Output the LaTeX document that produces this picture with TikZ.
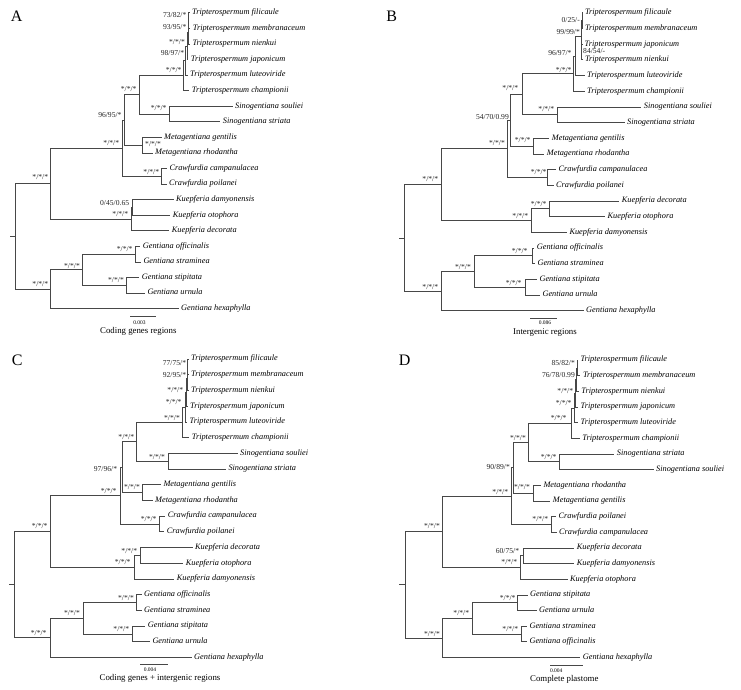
\documentclass[tikz,border=0pt]{standalone}
\usepackage{fontspec}
\setmainfont{Liberation Serif}
\usepackage{tikz}
\usetikzlibrary{positioning,calc}

\tikzset{
    taxon/.style={font=\fontsize{8.3}{9}\selectfont\itshape, anchor=west, inner xsep=2.5pt, inner ysep=0pt, text height=5.7pt, text depth=1.8pt},
    support/.style={font=\fontsize{7.6}{8}\selectfont, text=black!85, anchor=east, inner sep=0pt, text height=5.1pt, text depth=0pt},
    branch/.style={draw=black!72, line width=0.5pt},
    barlabel/.style={font=\fontsize{5.5}{6}\selectfont, inner sep=0pt},
    treetitle/.style={font=\fontsize{8.8}{10}\selectfont, inner sep=0pt, text height=6pt, text depth=1.9pt},
    panel/.style={font=\fontsize{16}{18}\selectfont, inner sep=0pt}
}

\begin{document}
\begin{tikzpicture}[x=1pt, y=-1pt]
    \useasboundingbox (0,0) rectangle (741,690);

    % ---------------- Panel A: coding genes ----------------
    \node[panel] (a_lab) at (16.7,16) {A};
    % tips
    \node[taxon] (a_fil) at (189.5,12.7) {Tripterospermum filicaule};
    \node[taxon] (a_mem) at (190.2,28.3) {Tripterospermum membranaceum};
    \node[taxon] (a_nie) at (189.8,43.8) {Tripterospermum nienkui};
    \node[taxon] (a_jap) at (188.2,59.4) {Tripterospermum japonicum};
    \node[taxon] (a_lut) at (187.5,75.0) {Tripterospermum luteoviride};
    \node[taxon] (a_cha) at (189.2,90.6) {Tripterospermum championii};
    \node[taxon] (a_sou) at (232.5,106.1) {Sinogentiana souliei};
    \node[taxon] (a_str) at (220.2,121.7) {Sinogentiana striata};
    \node[taxon] (a_gen) at (161.5,137.3) {Metagentiana gentilis};
    \node[taxon] (a_rho) at (152.5,152.8) {Metagentiana rhodantha};
    \node[taxon] (a_cam) at (166.8,168.4) {Crawfurdia campanulacea};
    \node[taxon] (a_poi) at (166.5,184.0) {Crawfurdia poilanei};
    \node[taxon] (a_dam) at (173.5,199.5) {Kuepferia damyonensis};
    \node[taxon] (a_oto) at (170.2,215.1) {Kuepferia otophora};
    \node[taxon] (a_dec) at (169.2,230.7) {Kuepferia decorata};
    \node[taxon] (a_off) at (140.2,246.3) {Gentiana officinalis};
    \node[taxon] (a_stm) at (140.8,261.8) {Gentiana straminea};
    \node[taxon] (a_stp) at (139.2,277.4) {Gentiana stipitata};
    \node[taxon] (a_urn) at (144.8,293.0) {Gentiana urnula};
    \node[taxon] (a_hex) at (178.5,308.5) {Gentiana hexaphylla};
    % inner nodes
    \coordinate (a_n1) at (188.5,20.5);
    \coordinate (a_n2) at (188,32.2);
    \coordinate (a_n3) at (187,45.8);
    \coordinate (a_n4) at (185.5,60.4);
    \coordinate (a_tri) at (183.3,75.4);
    \coordinate (a_sin) at (169.3,113.9);
    \coordinate (a_ts) at (139.3,94.7);
    \coordinate (a_met) at (142.7,145.0);
    \coordinate (a_tsm) at (124,119.9);
    \coordinate (a_cra) at (161.7,176.2);
    \coordinate (a_core) at (122.7,148.0);
    \coordinate (a_kdo) at (132.5,207.3);
    \coordinate (a_kue) at (131,219.0);
    \coordinate (a_ing) at (50.7,183.5);
    \coordinate (a_gos) at (135,254.0);
    \coordinate (a_gsu) at (126.7,285.2);
    \coordinate (a_gcl) at (82.3,269.6);
    \coordinate (a_gnt) at (50.7,289.1);
    \coordinate (a_root) at (15,236.3);
    \coordinate (a_stub) at (9.5,236.3);
    % branches
    \draw[branch] (a_n1) |- (a_fil.west) (a_n1) |- (a_mem.west);
    \draw[branch] (a_n2) |- (a_n1) (a_n2) |- (a_nie.west);
    \draw[branch] (a_n3) |- (a_n2) (a_n3) |- (a_jap.west);
    \draw[branch] (a_n4) |- (a_n3) (a_n4) |- (a_lut.west);
    \draw[branch] (a_tri) |- (a_n4) (a_tri) |- (a_cha.west);
    \draw[branch] (a_sin) |- (a_sou.west) (a_sin) |- (a_str.west);
    \draw[branch] (a_ts) |- (a_tri) (a_ts) |- (a_sin);
    \draw[branch] (a_met) |- (a_gen.west) (a_met) |- (a_rho.west);
    \draw[branch] (a_tsm) |- (a_ts) (a_tsm) |- (a_met);
    \draw[branch] (a_cra) |- (a_cam.west) (a_cra) |- (a_poi.west);
    \draw[branch] (a_core) |- (a_tsm) (a_core) |- (a_cra);
    \draw[branch] (a_kdo) |- (a_dam.west) (a_kdo) |- (a_oto.west);
    \draw[branch] (a_kue) |- (a_kdo) (a_kue) |- (a_dec.west);
    \draw[branch] (a_ing) |- (a_core) (a_ing) |- (a_kue);
    \draw[branch] (a_gos) |- (a_off.west) (a_gos) |- (a_stm.west);
    \draw[branch] (a_gsu) |- (a_stp.west) (a_gsu) |- (a_urn.west);
    \draw[branch] (a_gcl) |- (a_gos) (a_gcl) |- (a_gsu);
    \draw[branch] (a_gnt) |- (a_gcl) (a_gnt) |- (a_hex.west);
    \draw[branch] (a_root) |- (a_ing) (a_root) |- (a_gnt) (a_root) -- (a_stub);
    % support values
    \node[support] (a_s1) at (186.5,15) {73/82/*};
    \node[support] (a_s2) at (186.5,27.3) {93/95/*};
    \node[support] (a_s3) at (185,41.7) {*/*/*};
    \node[support] (a_s4) at (184.3,53.3) {98/97/*};
    \node[support] (a_s5) at (181.7,70) {*/*/*};
    \node[support] (a_s6) at (136.7,89.3) {*/*/*};
    \node[support] (a_s7) at (166.7,108.3) {*/*/*};
    \node[support] (a_s8) at (121.7,115) {96/95/*};
    \node[support, anchor=west] (a_s9) at (145,144) {*/*/*};
    \node[support] (a_s10) at (119.3,143.3) {*/*/*};
    \node[support] (a_s11) at (159.3,171.7) {*/*/*};
    \node[support] (a_s12) at (48.3,177.3) {*/*/*};
    \node[support] (a_s13) at (129.3,202.7) {0/45/0.65};
    \node[support] (a_s14) at (128.3,214) {*/*/*};
    \node[support] (a_s15) at (132.7,249) {*/*/*};
    \node[support] (a_s16) at (80,265.7) {*/*/*};
    \node[support] (a_s17) at (124,280) {*/*/*};
    \node[support] (a_s18) at (48.3,284.3) {*/*/*};
    % scale bar
    \coordinate (a_bar1) at (130,316.7);
    \coordinate (a_bar2) at (156,316.7);
    \draw[branch] (a_bar1) -- (a_bar2);
    \node[barlabel] (a_barlab) at (139.5,322.3) {0.003};
    \node[treetitle] (a_title) at (138.3,331.3) {Coding genes regions};

    % ---------------- Panel B: intergenic ----------------
    \begin{scope}[shift={(370,0)}]
    \node[panel] (b_lab) at (21.7,16) {B};
    % tips
    \node[taxon] (b_fil) at (212.3,12.7) {Tripterospermum filicaule};
    \node[taxon] (b_mem) at (212.3,28.4) {Tripterospermum membranaceum};
    \node[taxon] (b_jap) at (212,44.1) {Tripterospermum japonicum};
    \node[taxon] (b_nie) at (212.3,59.7) {Tripterospermum nienkui};
    \node[taxon] (b_lut) at (214.5,75.4) {Tripterospermum luteoviride};
    \node[taxon] (b_cha) at (214.5,91.1) {Tripterospermum championii};
    \node[taxon] (b_sou) at (271.2,106.8) {Sinogentiana souliei};
    \node[taxon] (b_str) at (254.5,122.5) {Sinogentiana striata};
    \node[taxon] (b_gen) at (179.2,138.1) {Metagentiana gentilis};
    \node[taxon] (b_rho) at (174.2,153.8) {Metagentiana rhodantha};
    \node[taxon] (b_cam) at (185.8,169.5) {Crawfurdia campanulacea};
    \node[taxon] (b_poi) at (183.5,185.2) {Crawfurdia poilanei};
    \node[taxon] (b_dec) at (249.2,200.9) {Kuepferia decorata};
    \node[taxon] (b_oto) at (235,216.5) {Kuepferia otophora};
    \node[taxon] (b_dam) at (196.8,232.2) {Kuepferia damyonensis};
    \node[taxon] (b_off) at (164.2,247.9) {Gentiana officinalis};
    \node[taxon] (b_stm) at (164.8,263.6) {Gentiana straminea};
    \node[taxon] (b_stp) at (166.8,279.3) {Gentiana stipitata};
    \node[taxon] (b_urn) at (169.8,294.9) {Gentiana urnula};
    \node[taxon] (b_hex) at (213.5,310.6) {Gentiana hexaphylla};
    % inner nodes
    \coordinate (b_n1) at (211.8,20.5);
    \coordinate (b_n2) at (211.6,51.9);
    \coordinate (b_n3) at (211.2,36.2);
    \coordinate (b_n4) at (205,55.8);
    \coordinate (b_tri) at (203.3,73.5);
    \coordinate (b_sin) at (187.7,114.6);
    \coordinate (b_ts) at (152.7,94.0);
    \coordinate (b_met) at (163.3,146.0);
    \coordinate (b_tsm) at (140,120.0);
    \coordinate (b_cra) at (177.7,177.3);
    \coordinate (b_core) at (137.7,148.6);
    \coordinate (b_kdo) at (179.3,208.7);
    \coordinate (b_kue) at (161,220.5);
    \coordinate (b_ing) at (71.7,184.6);
    \coordinate (b_gos) at (162.3,255.7);
    \coordinate (b_gsu) at (155,287.1);
    \coordinate (b_gcl) at (104,271.4);
    \coordinate (b_gnt) at (71.7,291.0);
    \coordinate (b_root) at (34.3,237.9);
    \coordinate (b_stub) at (29,237.9);
    % branches
    \draw[branch] (b_n1) |- (b_fil.west) (b_n1) |- (b_mem.west);
    \draw[branch] (b_n2) |- (b_jap.west) (b_n2) |- (b_nie.west);
    \draw[branch] (b_n3) |- (b_n1) (b_n3) |- (b_n2);
    \draw[branch] (b_n4) |- (b_n3) (b_n4) |- (b_lut.west);
    \draw[branch] (b_tri) |- (b_n4) (b_tri) |- (b_cha.west);
    \draw[branch] (b_sin) |- (b_sou.west) (b_sin) |- (b_str.west);
    \draw[branch] (b_ts) |- (b_tri) (b_ts) |- (b_sin);
    \draw[branch] (b_met) |- (b_gen.west) (b_met) |- (b_rho.west);
    \draw[branch] (b_tsm) |- (b_ts) (b_tsm) |- (b_met);
    \draw[branch] (b_cra) |- (b_cam.west) (b_cra) |- (b_poi.west);
    \draw[branch] (b_core) |- (b_tsm) (b_core) |- (b_cra);
    \draw[branch] (b_kdo) |- (b_dec.west) (b_kdo) |- (b_oto.west);
    \draw[branch] (b_kue) |- (b_kdo) (b_kue) |- (b_dam.west);
    \draw[branch] (b_ing) |- (b_core) (b_ing) |- (b_kue);
    \draw[branch] (b_gos) |- (b_off.west) (b_gos) |- (b_stm.west);
    \draw[branch] (b_gsu) |- (b_stp.west) (b_gsu) |- (b_urn.west);
    \draw[branch] (b_gcl) |- (b_gos) (b_gcl) |- (b_gsu);
    \draw[branch] (b_gnt) |- (b_gcl) (b_gnt) |- (b_hex.west);
    \draw[branch] (b_root) |- (b_ing) (b_root) |- (b_gnt) (b_root) -- (b_stub);
    % support values
    \node[support] (b_s1) at (210,20) {0/25/-};
    \node[support] (b_s2) at (210,31.7) {99/99/*};
    \node[support, anchor=west] (b_s3) at (213,51) {84/54/-};
    \node[support] (b_s4) at (201.7,52.7) {96/97/*};
    \node[support] (b_s5) at (201.7,70) {*/*/*};
    \node[support] (b_s6) at (148.3,88.3) {*/*/*};
    \node[support] (b_s7) at (184.3,109.3) {*/*/*};
    \node[support] (b_s8) at (139,117.3) {54/70/0.99};
    \node[support] (b_s9) at (160.7,140) {*/*/*};
    \node[support] (b_s10) at (135,143.3) {*/*/*};
    \node[support] (b_s11) at (176.7,171.7) {*/*/*};
    \node[support] (b_s12) at (68.3,179.3) {*/*/*};
    \node[support] (b_s13) at (176.7,204.3) {*/*/*};
    \node[support] (b_s14) at (158.3,215.7) {*/*/*};
    \node[support] (b_s15) at (157.7,251) {*/*/*};
    \node[support] (b_s16) at (101,266.7) {*/*/*};
    \node[support] (b_s17) at (151.7,282.7) {*/*/*};
    \node[support] (b_s18) at (68.3,286.7) {*/*/*};
    % scale bar
    \coordinate (b_bar1) at (160,318.3);
    \coordinate (b_bar2) at (187.3,318.3);
    \draw[branch] (b_bar1) -- (b_bar2);
    \node[barlabel] (b_barlab) at (175,322.3) {0.086};
    \node[treetitle] (b_title) at (175,332.7) {Intergenic regions};
    \end{scope}

    % ---------------- Panel C: coding genes + intergenic ----------------
    \node[panel] (c_lab) at (17.2,360.7) {C};
    % tips
    \node[taxon] (c_fil) at (188.5,359) {Tripterospermum filicaule};
    \node[taxon] (c_mem) at (188.5,374.7) {Tripterospermum membranaceum};
    \node[taxon] (c_nie) at (188.5,390.4) {Tripterospermum nienkui};
    \node[taxon] (c_jap) at (187.5,406.1) {Tripterospermum japonicum};
    \node[taxon] (c_lut) at (187,421.8) {Tripterospermum luteoviride};
    \node[taxon] (c_cha) at (189.2,437.5) {Tripterospermum championii};
    \node[taxon] (c_sou) at (237.5,453.2) {Sinogentiana souliei};
    \node[taxon] (c_str) at (225.8,468.9) {Sinogentiana striata};
    \node[taxon] (c_gen) at (160.8,484.6) {Metagentiana gentilis};
    \node[taxon] (c_rho) at (152.5,500.3) {Metagentiana rhodantha};
    \node[taxon] (c_cam) at (165.2,516.0) {Crawfurdia campanulacea};
    \node[taxon] (c_poi) at (164.2,531.7) {Crawfurdia poilanei};
    \node[taxon] (c_dec) at (192.5,547.4) {Kuepferia decorata};
    \node[taxon] (c_oto) at (183.2,563.1) {Kuepferia otophora};
    \node[taxon] (c_dam) at (174.2,578.8) {Kuepferia damyonensis};
    \node[taxon] (c_off) at (141.5,594.5) {Gentiana officinalis};
    \node[taxon] (c_stm) at (141.5,610.2) {Gentiana straminea};
    \node[taxon] (c_stp) at (145.2,625.9) {Gentiana stipitata};
    \node[taxon] (c_urn) at (149.8,641.6) {Gentiana urnula};
    \node[taxon] (c_hex) at (191.5,657.3) {Gentiana hexaphylla};
    % inner nodes
    \coordinate (c_n1) at (187.5,366.9);
    \coordinate (c_n2) at (187,378.6);
    \coordinate (c_n3) at (186.2,392.4);
    \coordinate (c_n4) at (184.8,407.1);
    \coordinate (c_tri) at (182.7,422.3);
    \coordinate (c_sin) at (168.3,461.1);
    \coordinate (c_ts) at (136.7,441.7);
    \coordinate (c_met) at (142.7,492.5);
    \coordinate (c_tsm) at (122.7,467.1);
    \coordinate (c_cra) at (159.3,523.9);
    \coordinate (c_core) at (120,495.4);
    \coordinate (c_kdo) at (140,555.3);
    \coordinate (c_kue) at (134.3,567.0);
    \coordinate (c_ing) at (50,531.2);
    \coordinate (c_gos) at (136.7,602.4);
    \coordinate (c_gsu) at (132.7,633.8);
    \coordinate (c_gcl) at (83.3,618.1);
    \coordinate (c_gnt) at (50,637.7);
    \coordinate (c_root) at (14.3,584.5);
    \coordinate (c_stub) at (8.8,584.5);
    % branches
    \draw[branch] (c_n1) |- (c_fil.west) (c_n1) |- (c_mem.west);
    \draw[branch] (c_n2) |- (c_n1) (c_n2) |- (c_nie.west);
    \draw[branch] (c_n3) |- (c_n2) (c_n3) |- (c_jap.west);
    \draw[branch] (c_n4) |- (c_n3) (c_n4) |- (c_lut.west);
    \draw[branch] (c_tri) |- (c_n4) (c_tri) |- (c_cha.west);
    \draw[branch] (c_sin) |- (c_sou.west) (c_sin) |- (c_str.west);
    \draw[branch] (c_ts) |- (c_tri) (c_ts) |- (c_sin);
    \draw[branch] (c_met) |- (c_gen.west) (c_met) |- (c_rho.west);
    \draw[branch] (c_tsm) |- (c_ts) (c_tsm) |- (c_met);
    \draw[branch] (c_cra) |- (c_cam.west) (c_cra) |- (c_poi.west);
    \draw[branch] (c_core) |- (c_tsm) (c_core) |- (c_cra);
    \draw[branch] (c_kdo) |- (c_dec.west) (c_kdo) |- (c_oto.west);
    \draw[branch] (c_kue) |- (c_kdo) (c_kue) |- (c_dam.west);
    \draw[branch] (c_ing) |- (c_core) (c_ing) |- (c_kue);
    \draw[branch] (c_gos) |- (c_off.west) (c_gos) |- (c_stm.west);
    \draw[branch] (c_gsu) |- (c_stp.west) (c_gsu) |- (c_urn.west);
    \draw[branch] (c_gcl) |- (c_gos) (c_gcl) |- (c_gsu);
    \draw[branch] (c_gnt) |- (c_gcl) (c_gnt) |- (c_hex.west);
    \draw[branch] (c_root) |- (c_ing) (c_root) |- (c_gnt) (c_root) -- (c_stub);
    % support values
    \node[support] (c_s1) at (186.3,363.3) {77/75/*};
    \node[support] (c_s2) at (186.3,375) {92/95/*};
    \node[support] (c_s3) at (183.3,390) {*/*/*};
    \node[support] (c_s4) at (181.7,402.3) {*/*/*};
    \node[support] (c_s5) at (180,417.7) {*/*/*};
    \node[support] (c_s6) at (134.3,436.7) {*/*/*};
    \node[support] (c_s7) at (165,456.7) {*/*/*};
    \node[support] (c_s8) at (117.3,469.3) {97/96/*};
    \node[support] (c_s9) at (140,486.7) {*/*/*};
    \node[support] (c_s10) at (116.7,490.7) {*/*/*};
    \node[support] (c_s11) at (156.7,519.3) {*/*/*};
    \node[support] (c_s12) at (47.7,526) {*/*/*};
    \node[support] (c_s13) at (137.3,551) {*/*/*};
    \node[support] (c_s14) at (130.7,562.3) {*/*/*};
    \node[support] (c_s15) at (134,598.3) {*/*/*};
    \node[support] (c_s16) at (80,613.3) {*/*/*};
    \node[support] (c_s17) at (129.3,629) {*/*/*};
    \node[support] (c_s18) at (46.7,633.3) {*/*/*};
    % scale bar
    \coordinate (c_bar1) at (140,664.3);
    \coordinate (c_bar2) at (167.7,664.3);
    \draw[branch] (c_bar1) -- (c_bar2);
    \node[barlabel] (c_barlab) at (150,669.3) {0.004};
    \node[treetitle] (c_title) at (160,678.3) {Coding genes + intergenic regions};

    % ---------------- Panel D: complete plastome ----------------
    \begin{scope}[shift={(370,0)}]
    \node[panel] (d_lab) at (34.7,360) {D};
    % tips
    \node[taxon] (d_fil) at (207.8,360) {Tripterospermum filicaule};
    \node[taxon] (d_mem) at (210.3,375.7) {Tripterospermum membranaceum};
    \node[taxon] (d_nie) at (208.7,391.3) {Tripterospermum nienkui};
    \node[taxon] (d_jap) at (208,407.0) {Tripterospermum japonicum};
    \node[taxon] (d_lut) at (208,422.6) {Tripterospermum luteoviride};
    \node[taxon] (d_cha) at (209.7,438.3) {Tripterospermum championii};
    \node[taxon] (d_str) at (244.2,453.9) {Sinogentiana striata};
    \node[taxon] (d_sou) at (283.5,469.6) {Sinogentiana souliei};
    \node[taxon] (d_rho) at (170.8,485.2) {Metagentiana rhodantha};
    \node[taxon] (d_gen) at (180.2,500.9) {Metagentiana gentilis};
    \node[taxon] (d_poi) at (185.8,516.5) {Crawfurdia poilanei};
    \node[taxon] (d_cam) at (186.5,532.2) {Crawfurdia campanulacea};
    \node[taxon] (d_dec) at (204.2,547.8) {Kuepferia decorata};
    \node[taxon] (d_dam) at (204.2,563.5) {Kuepferia damyonensis};
    \node[taxon] (d_oto) at (197.5,579.1) {Kuepferia otophora};
    \node[taxon] (d_stp) at (157.5,594.8) {Gentiana stipitata};
    \node[taxon] (d_urn) at (166.5,610.4) {Gentiana urnula};
    \node[taxon] (d_stm) at (156.8,626.1) {Gentiana straminea};
    \node[taxon] (d_off) at (156.8,641.7) {Gentiana officinalis};
    \node[taxon] (d_hex) at (210.2,657.4) {Gentiana hexaphylla};
    % inner nodes
    \coordinate (d_n1) at (207,367.8);
    \coordinate (d_n2) at (206.5,379.6);
    \coordinate (d_n3) at (205.5,393.3);
    \coordinate (d_n4) at (203.8,407.9);
    \coordinate (d_tri) at (201.7,423.1);
    \coordinate (d_sin) at (189.3,461.7);
    \coordinate (d_ts) at (158.3,442.4);
    \coordinate (d_met) at (163.3,493.0);
    \coordinate (d_tsm) at (143.3,467.7);
    \coordinate (d_cra) at (181,524.3);
    \coordinate (d_core) at (141.7,496.0);
    \coordinate (d_kdo) at (153,555.6);
    \coordinate (d_kue) at (150.7,567.4);
    \coordinate (d_ing) at (72.7,531.7);
    \coordinate (d_gsu) at (147.7,602.6);
    \coordinate (d_gso) at (151.7,633.9);
    \coordinate (d_gcl) at (102.3,618.2);
    \coordinate (d_gnt) at (72.7,637.8);
    \coordinate (d_root) at (35,584.7);
    \coordinate (d_stub) at (29,584.7);
    % branches
    \draw[branch] (d_n1) |- (d_fil.west) (d_n1) |- (d_mem.west);
    \draw[branch] (d_n2) |- (d_n1) (d_n2) |- (d_nie.west);
    \draw[branch] (d_n3) |- (d_n2) (d_n3) |- (d_jap.west);
    \draw[branch] (d_n4) |- (d_n3) (d_n4) |- (d_lut.west);
    \draw[branch] (d_tri) |- (d_n4) (d_tri) |- (d_cha.west);
    \draw[branch] (d_sin) |- (d_str.west) (d_sin) |- (d_sou.west);
    \draw[branch] (d_ts) |- (d_tri) (d_ts) |- (d_sin);
    \draw[branch] (d_met) |- (d_rho.west) (d_met) |- (d_gen.west);
    \draw[branch] (d_tsm) |- (d_ts) (d_tsm) |- (d_met);
    \draw[branch] (d_cra) |- (d_poi.west) (d_cra) |- (d_cam.west);
    \draw[branch] (d_core) |- (d_tsm) (d_core) |- (d_cra);
    \draw[branch] (d_kdo) |- (d_dec.west) (d_kdo) |- (d_dam.west);
    \draw[branch] (d_kue) |- (d_kdo) (d_kue) |- (d_oto.west);
    \draw[branch] (d_ing) |- (d_core) (d_ing) |- (d_kue);
    \draw[branch] (d_gsu) |- (d_stp.west) (d_gsu) |- (d_urn.west);
    \draw[branch] (d_gso) |- (d_stm.west) (d_gso) |- (d_off.west);
    \draw[branch] (d_gcl) |- (d_gsu) (d_gcl) |- (d_gso);
    \draw[branch] (d_gnt) |- (d_gcl) (d_gnt) |- (d_hex.west);
    \draw[branch] (d_root) |- (d_ing) (d_root) |- (d_gnt) (d_root) -- (d_stub);
    % support values
    \node[support] (d_s1) at (205,363.3) {85/82/*};
    \node[support] (d_s2) at (205,375) {76/78/0.99};
    \node[support] (d_s3) at (203.3,391) {*/*/*};
    \node[support] (d_s4) at (201.7,402.7) {*/*/*};
    \node[support] (d_s5) at (196.7,418.3) {*/*/*};
    \node[support] (d_s6) at (156,437.7) {*/*/*};
    \node[support] (d_s7) at (186.7,456.7) {*/*/*};
    \node[support] (d_s8) at (140,466.7) {90/89/*};
    \node[support] (d_s9) at (160,486.7) {*/*/*};
    \node[support] (d_s10) at (138.3,491.7) {*/*/*};
    \node[support] (d_s11) at (178.3,519.3) {*/*/*};
    \node[support] (d_s12) at (70,526) {*/*/*};
    \node[support] (d_s13) at (149.3,550.7) {60/75/*};
    \node[support] (d_s14) at (147.3,562.3) {*/*/*};
    \node[support] (d_s15) at (145.7,598.3) {*/*/*};
    \node[support] (d_s16) at (99.3,613.3) {*/*/*};
    \node[support] (d_s17) at (148.3,629) {*/*/*};
    \node[support] (d_s18) at (70,634) {*/*/*};
    % scale bar
    \coordinate (d_bar1) at (180,665);
    \coordinate (d_bar2) at (213.3,665);
    \draw[branch] (d_bar1) -- (d_bar2);
    \node[barlabel] (d_barlab) at (186.3,670.7) {0.004};
    \node[treetitle] (d_title) at (194.3,679) {Complete plastome};
    \end{scope}
\end{tikzpicture}
\end{document}
